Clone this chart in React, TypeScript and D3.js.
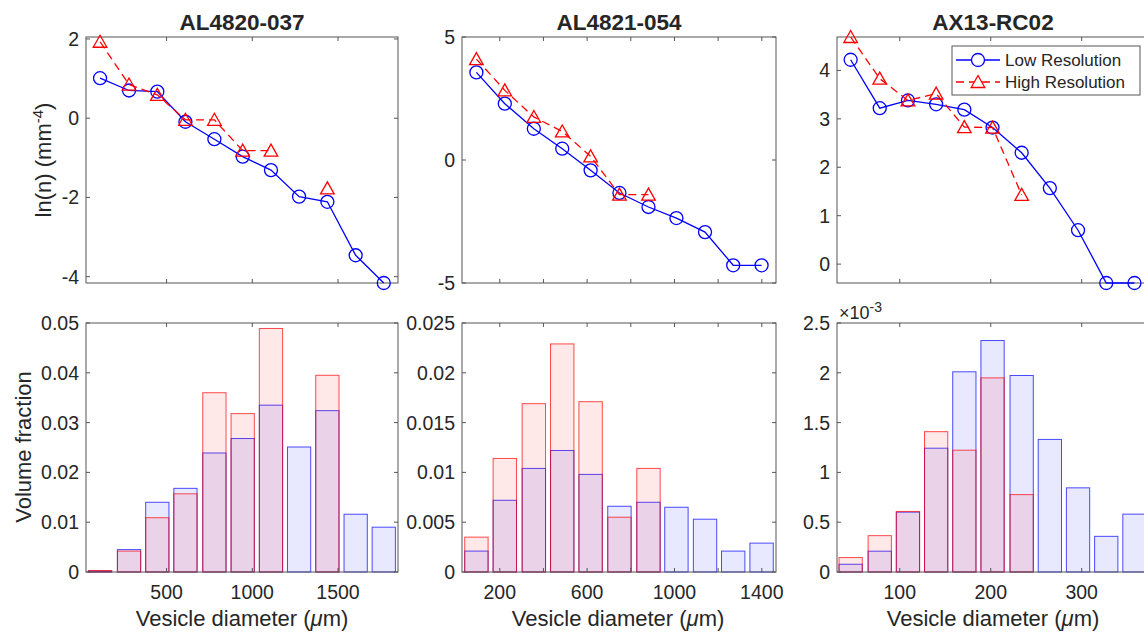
import * as d3 from 'd3';

// sample names
const titles = ['AL4820-037', 'AL4821-054', 'AX13-RC02'];

// bin centres (µm)
const centersA = [112, 281, 446, 610, 779, 944, 1109, 1273, 1438, 1603, 1767];
const centersB = [93, 223, 356, 486, 616, 748, 881, 1009, 1140, 1269, 1399];
const centersC = [46, 78, 109, 140, 171, 202, 234, 265, 296, 327, 358];

// ln(n) – low / high resolution
const lowLnA = [1.01, 0.7, 0.67, -0.09, -0.53, -0.97, -1.31, -1.98, -2.11, -3.46, -4.16];
const highLnA = [1.93, 0.85, 0.59, -0.04, -0.04, -0.82, -0.82, null, -1.77, null, null];
const lowLnB = [3.56, 2.29, 1.27, 0.46, -0.42, -1.34, -1.91, -2.36, -2.93, -4.28, -4.28];
const highLnB = [4.1, 2.83, 1.75, 1.16, 0.15, -1.41, -1.41, null, null, null, null];
const lowLnC = [4.22, 3.22, 3.38, 3.3, 3.19, 2.82, 2.3, 1.57, 0.7, -0.39, -0.39];
const highLnC = [4.69, 3.83, 3.38, 3.52, 2.83, 2.82, 1.43, null, null, null, null];

// volume fraction – low / high resolution
const lowVolA = [0.0002, 0.0045, 0.014, 0.0168, 0.0239, 0.0268, 0.0335, 0.0251, 0.0324, 0.0116, 0.009];
const highVolA = [0.0003, 0.0042, 0.0109, 0.0157, 0.036, 0.0318, 0.0489, null, 0.0395, null, null];
const lowVolB = [0.0021, 0.0072, 0.0104, 0.0122, 0.0098, 0.0066, 0.007, 0.0065, 0.0053, 0.0021, 0.0029];
const highVolB = [0.0035, 0.0114, 0.0169, 0.0229, 0.0171, 0.0055, 0.0104, null, null, null, null];
const lowVolC = [0.078e-3, 0.209e-3, 0.601e-3, 1.243e-3, 2.01e-3, 2.324e-3, 1.973e-3, 1.331e-3, 0.845e-3, 0.358e-3, 0.581e-3];
const highVolC = [0.145e-3, 0.365e-3, 0.608e-3, 1.409e-3, 1.223e-3, 1.949e-3, 0.777e-3, null, null, null, null];

// axes limits and ticks
const xDomains = [[30, 1850], [27, 1465], [31, 374]];
const xTicks = [[500, 1000, 1500], [200, 400, 600, 800, 1000, 1200, 1400], [100, 200, 300]];
const xTickLabels = [['500', '1000', '1500'], ['200', '', '600', '', '1000', '', '1400'], ['100', '200', '300']];
const lnDomains = [[-4.16, 2.05], [-5, 5], [-0.39, 4.69]];
const lnTicks = [[-4, -2, 0, 2], [-5, 0, 5], [0, 1, 2, 3, 4]];
const volDomains = [[0, 0.05], [0, 0.025], [0, 2.5e-3]];
const volTicks = [
  [0, 0.01, 0.02, 0.03, 0.04, 0.05],
  [0, 0.005, 0.01, 0.015, 0.02, 0.025],
  [0, 0.5e-3, 1e-3, 1.5e-3, 2e-3, 2.5e-3],
];
const volTickLabels = [
  ['0', '0.01', '0.02', '0.03', '0.04', '0.05'],
  ['0', '0.005', '0.01', '0.015', '0.02', '0.025'],
  ['0', '0.5', '1', '1.5', '2', '2.5'],
];

const centers = [centersA, centersB, centersC];
const lowLn = [lowLnA, lowLnB, lowLnC];
const highLn = [highLnA, highLnB, highLnC];
const lowVol = [lowVolA, lowVolB, lowVolC];
const highVol = [highVolA, highVolB, highVolC];

const FONT = "'Liberation Sans', Arial, Helvetica, sans-serif";
const INK = '#262626';
const BOX = '#555';
const BLUE = '#0000ff';
const RED = '#ff0000';

const colLeft = [86, 462, 837];
const colWidth = [312, 314, 312];
const topRow = [37, 283];
const botRow = [323, 572];
const TICK = 4;
const TICK_FS = 19.5;
const LABEL_FS = 22;

function Frame({ x, y, xt, yt }) {
  const [x0, x1] = x.range();
  const [y1, y0] = y.range();
  return (
    <g stroke={BOX} strokeWidth={1} fill="none">
      <rect x={x0} y={y0} width={x1 - x0} height={y1 - y0} />
      {xt.map((t) => (
        <g key={'x' + t}>
          <line x1={x(t)} x2={x(t)} y1={y1} y2={y1 - TICK} />
          <line x1={x(t)} x2={x(t)} y1={y0} y2={y0 + TICK} />
        </g>
      ))}
      {yt.map((t) => (
        <g key={'y' + t}>
          <line x1={x0} x2={x0 + TICK} y1={y(t)} y2={y(t)} />
          <line x1={x1} x2={x1 - TICK} y1={y(t)} y2={y(t)} />
        </g>
      ))}
    </g>
  );
}

const triPath = 'M0,-6.5L6.8,5.5L-6.8,5.5Z';

function TopPanel({ i }) {
  const left = colLeft[i];
  const x = d3.scaleLinear().domain(xDomains[i]).range([left, left + colWidth[i]]);
  const y = d3.scaleLinear().domain(lnDomains[i]).range([topRow[1], topRow[0]]);
  const c = centers[i];
  const line = d3
    .line()
    .defined((d) => d[1] != null)
    .x((d) => x(d[0]))
    .y((d) => y(d[1]));
  const low = c.map((v, k) => [v, lowLn[i][k]]);
  const high = c.map((v, k) => [v, highLn[i][k]]);
  return (
    <g>
      <Frame x={x} y={y} xt={xTicks[i]} yt={lnTicks[i]} />
      <g fontSize={TICK_FS} fill={INK} textAnchor="end">
        {lnTicks[i].map((t) => (
          <text key={t} x={left - 7} y={y(t) + 7}>
            {String(t)}
          </text>
        ))}
      </g>
      <text x={left + colWidth[i] / 2} y={30} textAnchor="middle" fontWeight="bold" fontSize={22.5} fill={INK}>
        {titles[i]}
      </text>
      <path d={line(low)} fill="none" stroke={BLUE} strokeWidth={1.3} />
      {low.map((d, k) => (
        <circle key={k} cx={x(d[0])} cy={y(d[1])} r={6.5} fill="none" stroke={BLUE} strokeWidth={1.3} />
      ))}
      <path d={line(high)} fill="none" stroke={RED} strokeWidth={1.3} strokeDasharray="8,5" />
      {high
        .filter((d) => d[1] != null)
        .map((d, k) => (
          <path
            key={k}
            d={triPath}
            transform={`translate(${x(d[0])},${y(d[1])})`}
            fill="none"
            stroke={RED}
            strokeWidth={1.3}
          />
        ))}
    </g>
  );
}

function BottomPanel({ i }) {
  const left = colLeft[i];
  const x = d3.scaleLinear().domain(xDomains[i]).range([left, left + colWidth[i]]);
  const y = d3.scaleLinear().domain(volDomains[i]).range([botRow[1], botRow[0]]);
  const c = centers[i];
  const binW = (c[c.length - 1] - c[0]) / (c.length - 1);
  const bars = (vals, fill, stroke) =>
    vals.map((v, k) =>
      v == null ? null : (
        <rect
          key={k}
          x={x(c[k] - binW * 0.41)}
          width={x(c[k] + binW * 0.41) - x(c[k] - binW * 0.41)}
          y={y(v)}
          height={y(0) - y(v)}
          fill={fill}
          stroke={stroke}
          strokeOpacity={0.7}
          strokeWidth={1}
        />
      )
    );
  return (
    <g>
      {bars(lowVol[i], 'rgba(0,0,255,0.09)', BLUE)}
      {bars(highVol[i], 'rgba(255,0,0,0.09)', RED)}
      <Frame x={x} y={y} xt={xTicks[i]} yt={volTicks[i]} />
      <g fontSize={TICK_FS} fill={INK} textAnchor="end">
        {volTicks[i].map((t, k) => (
          <text key={t} x={left - 7} y={y(t) + 7}>
            {volTickLabels[i][k]}
          </text>
        ))}
      </g>
      <g fontSize={TICK_FS} fill={INK} textAnchor="middle">
        {xTicks[i].map((t, k) => (
          <text key={t} x={x(t)} y={botRow[1] + 27}>
            {xTickLabels[i][k]}
          </text>
        ))}
      </g>
      <text x={left + 156} y={626} textAnchor="middle" fontSize={LABEL_FS} fill={INK}>
        Vesicle diameter (<tspan fontStyle="italic">μ</tspan>m)
      </text>
      {i === 2 && (
        <text x={839} y={319} fontSize={18} fill={INK}>
          ×10<tspan dy={-7} fontSize={14}>-3</tspan>
        </text>
      )}
    </g>
  );
}

function Legend() {
  const lx = 952;
  const rows = [60, 82];
  return (
    <g>
      <rect x={lx} y={46} width={188} height={49} fill="#fff" stroke={BOX} strokeWidth={1} />
      <line x1={lx + 4} x2={lx + 48} y1={rows[0]} y2={rows[0]} stroke={BLUE} strokeWidth={1.3} />
      <circle cx={lx + 26} cy={rows[0]} r={6.5} fill="#fff" stroke={BLUE} strokeWidth={1.3} />
      <line x1={lx + 4} x2={lx + 48} y1={rows[1]} y2={rows[1]} stroke={RED} strokeWidth={1.3} strokeDasharray="8,5" />
      <path d={triPath} transform={`translate(${lx + 26},${rows[1]})`} fill="#fff" stroke={RED} strokeWidth={1.3} />
      <g fontSize={17} fill={INK}>
        <text x={lx + 53} y={rows[0] + 6}>Low Resolution</text>
        <text x={lx + 53} y={rows[1] + 6}>High Resolution</text>
      </g>
    </g>
  );
}

export default function App() {
  return (
    <div style={{ position: 'absolute', left: 0, top: 0, width: 1144, height: 634, overflow: 'hidden' }}>
      <svg width={1144} height={634} fontFamily={FONT} style={{ display: 'block', background: '#fff' }}>
        {[0, 1, 2].map((i) => (
          <TopPanel key={'t' + i} i={i} />
        ))}
        {[0, 1, 2].map((i) => (
          <BottomPanel key={'b' + i} i={i} />
        ))}
        <Legend />
        <text transform="translate(51,160) rotate(-90)" textAnchor="middle" fontSize={LABEL_FS} fill={INK}>
          ln(n) (mm<tspan dy={-8} fontSize={15}>-4</tspan>
          <tspan dy={8}>)</tspan>
        </text>
        <text transform="translate(31,447) rotate(-90)" textAnchor="middle" fontSize={LABEL_FS} fill={INK}>
          Volume fraction
        </text>
      </svg>
    </div>
  );
}
